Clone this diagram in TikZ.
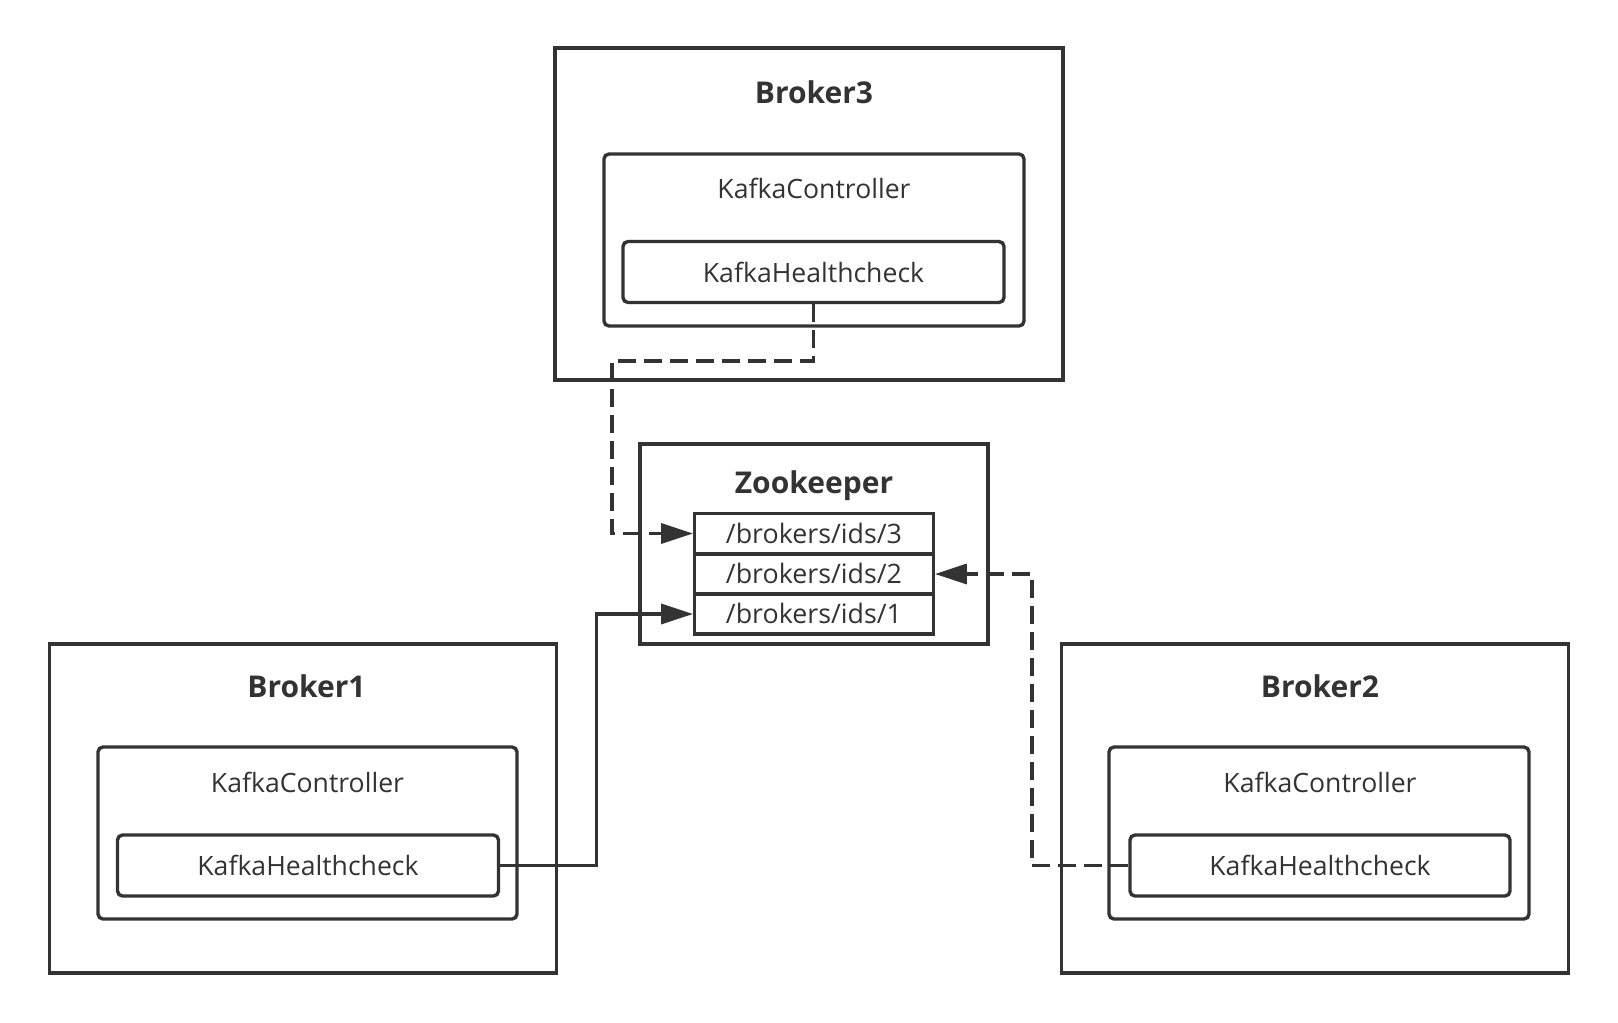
\documentclass[tikz,border=0pt]{standalone}
\usepackage{fontspec}
\setmainfont{Open Sans}
\usetikzlibrary{arrows.meta}
\definecolor{ink}{HTML}{333333}
\tikzset{
  box/.style={draw=ink, line width=3.4pt, inner sep=0pt},
  outerbox/.style={box},
  innerbox/.style={box, rounded corners=5pt},
  idbox/.style={box, font=\fontsize{26.8}{30}\selectfont, text=ink, text depth=0pt, text height=19pt},
  title/.style={font=\fontsize{30}{34}\selectfont\bfseries, text=ink, inner sep=0pt},
  label/.style={font=\fontsize{26.6}{30}\selectfont, text=ink, inner sep=0pt},
  conn/.style={draw=ink, line width=3.4pt, -{Triangle[length=32pt,width=20pt]}},
  dashconn/.style={conn, dash pattern=on 18pt off 8pt},
}
\begin{document}
\begin{tikzpicture}[x=1pt,y=-1pt]
\useasboundingbox[fill=white] (0,0) rectangle (1618,1023);
% Broker3
\node[outerbox, minimum width=508pt, minimum height=332pt] (b3) at (809,214) {};
\node[title] (b3t) at (814,92) {Broker3};
\node[innerbox, minimum width=420pt, minimum height=172pt] (kc3) at (814,240) {};
\node[label] (kc3t) at (814,188) {KafkaController};
\node[innerbox, minimum width=381pt, minimum height=61pt, label] (kh3) at (813.5,272) {KafkaHealthcheck};
% Zookeeper
\node[outerbox, minimum width=348pt, minimum height=200pt] (zk) at (814,544) {};
\node[title] (zkt) at (814,486) {Zookeeper};
\node[idbox, minimum width=238.5pt, minimum height=40.5pt] (id3) at (814,533.5) {/brokers/ids/3};
\node[idbox, minimum width=238.5pt, minimum height=40pt] (id2) at (814,574) {/brokers/ids/2};
\node[idbox, minimum width=238.5pt, minimum height=40pt] (id1) at (814,614) {/brokers/ids/1};
% Broker1
\node[outerbox, minimum width=507pt, minimum height=329pt] (b1) at (303,808.5) {};
\node[title] (b1t) at (306.5,686) {Broker1};
\node[innerbox, minimum width=419pt, minimum height=172pt] (kc1) at (307.5,833) {};
\node[label] (kc1t) at (307.5,782) {KafkaController};
\node[innerbox, minimum width=381pt, minimum height=61pt, label] (kh1) at (308,865.5) {KafkaHealthcheck};
% Broker2
\node[outerbox, minimum width=506.5pt, minimum height=329pt] (b2) at (1315,808.5) {};
\node[title] (b2t) at (1320,686) {Broker2};
\node[innerbox, minimum width=420pt, minimum height=172pt] (kc2) at (1319,833) {};
\node[label] (kc2t) at (1320,782) {KafkaController};
\node[innerbox, minimum width=380pt, minimum height=61pt, label] (kh2) at (1320,865.5) {KafkaHealthcheck};
% connectors
\coordinate (j3) at (612,361);
\coordinate (j1) at (596.5,0);
\coordinate (j2) at (1032,0);
\draw[dashconn] (kh3.south) -- (kh3.south |- j3) -- (j3) -- (j3 |- id3.west) -- (id3.west);
\draw[conn] (kh1.east) -- (kh1.east -| j1) -- (j1 |- id1.west) -- (id1.west);
\draw[dashconn] (kh2.west) -- (kh2.west -| j2) -- (j2 |- id2.east) -- (id2.east);
\end{tikzpicture}
\end{document}
